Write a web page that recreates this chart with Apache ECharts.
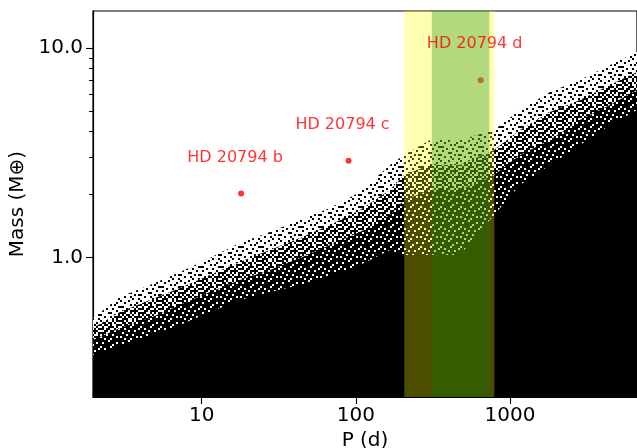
<!DOCTYPE html>
<html><head><meta charset="utf-8">
<script src="https://cdn.jsdelivr.net/npm/echarts@6/dist/echarts.min.js"></script>
<style>html,body{margin:0;padding:0;background:#fff}#c{width:637px;height:448px}</style>
</head><body><div id="c"></div>
<script>
// Planets
const planetNames = ['HD 20794 b', 'HD 20794 c', 'HD 20794 d'];
const planetPeriods = [18.0, 89.6, 645];
const planetMasses = [2.02, 2.90, 7.03];

// Habitable zone bands (period, days)
const hzOptimistic = [206, 791];
const hzConservative = [311, 734];

// Detection-limit cloud, read as envelopes (period d, mass M_earth)
const limitPeriods   = [1.97, 2.95, 4.62, 7.23, 11.3, 17.7, 27.7, 43.4, 68.0, 106.4, 166.5, 205.3, 302.7, 473.8, 787.5, 1161, 1817, 2845, 4454, 6666];
const limitUpperMass = [0.5125, 0.6457, 0.737, 0.851, 0.992, 1.171, 1.321, 1.508, 1.721, 2.053, 2.765, 3.087, 3.641, 3.641, 4.066, 5.068, 6.179, 7.053, 8.321, 9.601];
const limitMidMass   = [0.4587, 0.5474, 0.6246, 0.7131, 0.823, 0.9495, 1.084, 1.237, 1.427, 1.684, 2.099, 2.476, 2.765, 2.765, 3.262, 4.066, 4.957, 5.656, 6.674, 7.703];
const limitDenseMass = [0.402, 0.4587, 0.5125, 0.591, 0.6823, 0.7788, 0.870, 0.992, 1.145, 1.321, 1.594, 1.880, 2.099, 2.099, 2.476, 3.087, 3.641, 4.539, 5.354, 6.317];
const limitSolidMass = [0.3408, 0.3805, 0.4249, 0.4744, 0.5474, 0.6246, 0.6823, 0.737, 0.823, 0.919, 1.084, 1.026, 1.026, 1.026, 1.594, 2.218, 2.765, 3.446, 4.296, 5.068];

// Axis ticks
const xTicks = [10, 100, 1000];
const yTicks = [1, 10];
const yMinorTicks = [2, 3, 4, 5, 6, 7, 8, 9];

// dotted textures (style only)
function makePattern(rows, cell) {
  const c = document.createElement('canvas');
  c.width = rows[0].length * cell; c.height = rows.length * cell;
  const g = c.getContext('2d');
  g.fillStyle = '#fff'; g.fillRect(0, 0, c.width, c.height);
  g.fillStyle = '#000';
  rows.forEach((r, j) => { for (let i = 0; i < r.length; i++) if (r[i] === '1') g.fillRect(i * cell, j * cell, cell, cell); });
  return { image: c, repeat: 'repeat' };
}
const sparseRows = ['1000100000', '0010000010', '0000010100', '1100000001', '0001001000', '0100000010', '0000110000', '1000000101', '0010010000', '0000001001'];
const midRows    = ['1101001011', '0110110100', '1011010011', '0100111010', '1101100101', '0011011110', '1110010101', '0101101001', '1010110111', '0111001010'];
const denseRows  = ['1111011111', '1011111101', '1111110111', '0111101111', '1101111110', '1111011011', '1011111111', '1110110111', '0111111101', '1101101111'];

const pair = (xs, ys) => xs.map((x, i) => [x, ys[i]]);
const FONT = 'DejaVu Sans';
const xMin = 1.97, xMax = 6666, yMin = 0.2146, yMax = 15.08;

const areaLayer = (z, ys, color) => ({ type: 'line', z, data: pair(limitPeriods, ys), symbol: 'none', silent: true,
  lineStyle: { width: 0 }, areaStyle: { origin: 'start', color, opacity: 1 } });

const chart = echarts.init(document.getElementById('c'), null, { renderer: 'canvas' });
chart.setOption({
  animation: false,
  grid: { left: 93, top: 11, right: 0, bottom: 51, outerBoundsMode: 'none', containLabel: false,
    show: true, borderColor: '#000', borderWidth: 1.2, backgroundColor: 'transparent' },
  xAxis: {
    type: 'log', logBase: 10, min: xMin, max: xMax,
    name: 'P (d)', nameLocation: 'middle', nameGap: 29,
    nameTextStyle: { fontFamily: FONT, fontSize: 20, color: '#000' },
    axisLine: { show: true, lineStyle: { color: '#000', width: 1.2 } },
    axisTick: { show: true, customValues: xTicks, length: 7, lineStyle: { color: '#000', width: 1.1 } },
    axisLabel: { customValues: xTicks, fontFamily: FONT, fontSize: 20, color: '#000', margin: 9, formatter: v => String(Math.round(v)) },
    splitLine: { show: false }
  },
  yAxis: [{
    type: 'log', logBase: 10, min: yMin, max: yMax, position: 'left',
    name: 'Mass (M⊕)', nameLocation: 'middle', nameGap: 58, nameRotate: 90,
    nameTextStyle: { fontFamily: FONT, fontSize: 20, color: '#000' },
    axisLine: { show: true, lineStyle: { color: '#000', width: 1.2 } },
    axisTick: { show: true, customValues: yTicks, length: 7, lineStyle: { color: '#000', width: 1.1 } },
    axisLabel: { customValues: yTicks, fontFamily: FONT, fontSize: 20, color: '#000', margin: 10, formatter: v => v.toFixed(1) },
    splitLine: { show: false }
  }, {
    type: 'log', logBase: 10, min: yMin, max: yMax, position: 'left',
    axisLine: { show: false },
    axisTick: { show: true, customValues: yMinorTicks, length: 4, lineStyle: { color: '#000', width: 1 } },
    axisLabel: { show: false },
    splitLine: { show: false }
  }],
  series: [
    areaLayer(1, limitUpperMass, makePattern(sparseRows, 2)),
    areaLayer(2, limitMidMass, makePattern(midRows, 2)),
    areaLayer(3, limitDenseMass, makePattern(denseRows, 2)),
    areaLayer(4, limitSolidMass, '#000'),
    { type: 'scatter', z: 5, data: pair(planetPeriods, planetMasses), symbolSize: 6, itemStyle: { color: '#ff0000' } },
    { type: 'scatter', z: 6, data: [], silent: true,
      markArea: { silent: true, z: 10, data: [
        [{ xAxis: hzOptimistic[0], itemStyle: { color: 'rgba(255,255,0,0.3)' } }, { xAxis: hzOptimistic[1] }],
        [{ xAxis: hzConservative[0], itemStyle: { color: 'rgba(0,128,0,0.3)' } }, { xAxis: hzConservative[1] }]
      ] } },
    { type: 'scatter', z: 20, silent: true, symbolSize: 1, itemStyle: { color: 'rgba(0,0,0,0)' },
      data: planetNames.map((n, i) => ({ value: [planetPeriods[i], planetMasses[i]], name: n })),
      label: { show: true, position: 'inside', offset: [-6, -36], formatter: p => p.name,
        color: '#ff0000', fontFamily: FONT, fontSize: 16 } }
  ]
});
</script></body></html>
